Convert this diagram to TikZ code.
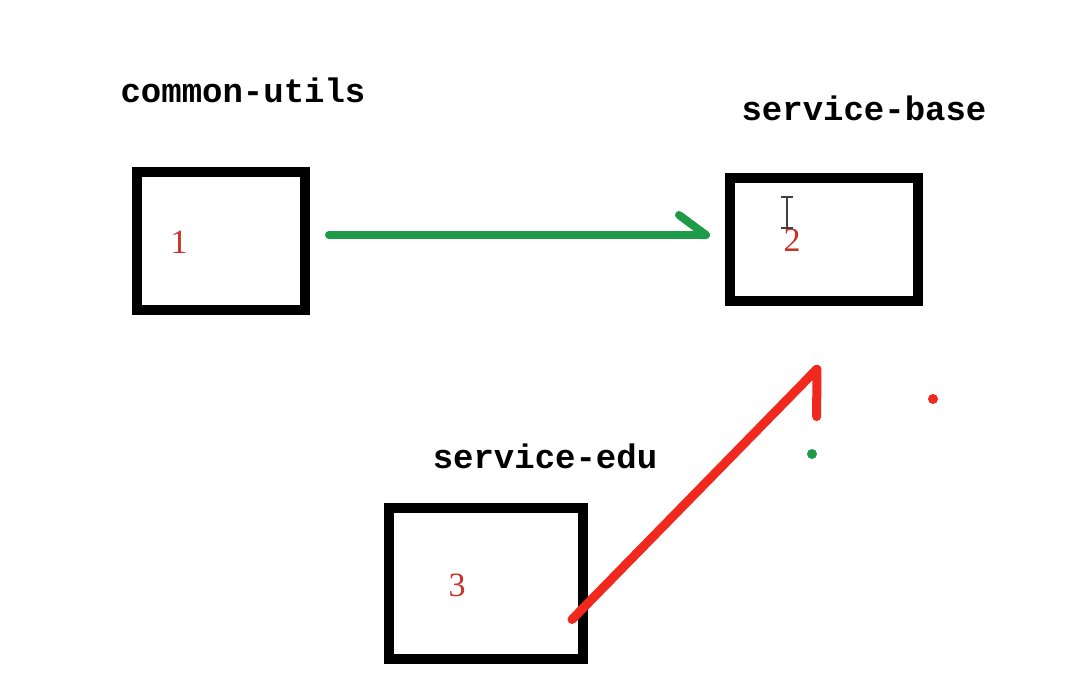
\documentclass[tikz,border=0pt]{standalone}
\usepackage{fontspec}
\setmainfont{Liberation Serif}
\setmonofont{Liberation Mono}
\usetikzlibrary{positioning,arrows.meta}
\definecolor{numred}{RGB}{200,50,40}
\definecolor{linkgreen}{RGB}{30,155,72}
\definecolor{linkred}{RGB}{240,40,30}
\tikzset{
	module/.style = {draw=black, line width=10pt, inner sep=0pt},
	modname/.style = {font=\ttfamily\bfseries\fontsize{34}{34}\selectfont, anchor=base},
	modnum/.style = {text=numred, font=\fontsize{34}{34}\selectfont},
	link/.style = {line width=8pt, line cap=round}
}

\begin{document}
\begin{tikzpicture}[x=1pt, y=-1pt]
	\useasboundingbox[fill=white] (0,0) rectangle (1090,690);

	% the three modules
	\node[module, minimum width=168pt, minimum height=138pt] (common) at (221,241) {};
	\node[module, minimum width=188pt, minimum height=123pt] (base) at (824,239.5) {};
	\node[module, minimum width=194pt, minimum height=151pt] (edu) at (486,583.5) {};

	\node[modname] (commonname) at (243,103) {common-utils};
	\node[modname] (basename) at (864,121) {service-base};
	\node[modname] (eduname) at (545,468) {service-edu};

	\node[modnum] (commonnum) at (179,242) {1};
	\node[modnum] (basenum) at (792,240) {2};
	\node[modnum] (edunum) at (457,585) {3};

	% dependencies
	\draw[link, linkgreen, shorten <=19pt, shorten >=15pt,
		-{Straight Barb[harpoon, round, length=27pt, width=40pt]}]
		([yshift=6pt]common.east) -- ([yshift=4.5pt]base.west);

	\coordinate (edutip) at ([xshift=-4pt, yshift=-60pt]base.south);
	\draw[link, linkred, line width=9pt,
		-{Straight Barb[harpoon, swap, round, length=34pt, width=66pt]}]
		([xshift=-16pt, yshift=-36pt]edu.east) -- (edutip);

	% stray marks
	\fill[linkred] (933,399) circle[radius=5pt];
	\fill[linkgreen] (812,454) circle[radius=5pt];
	\draw[black!75, line width=1.5pt] (781,197) -- (793,197)
		(787,197) -- (787,228) (781,228) -- (793,228);

\end{tikzpicture}
\end{document}
